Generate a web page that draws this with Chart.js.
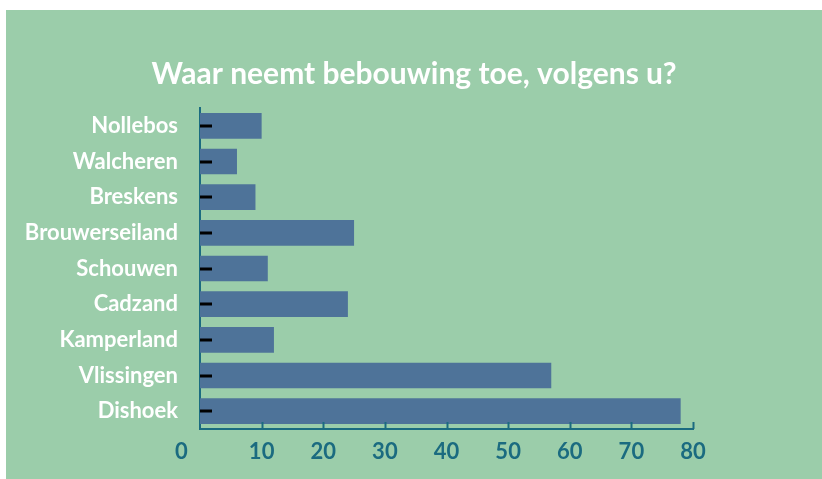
<!DOCTYPE html>
<html>
<head>
<meta charset="utf-8">
<script src="https://cdn.jsdelivr.net/npm/chart.js@4"></script>
<style>
  html, body { margin: 0; padding: 0; background: #ffffff; }
  #wrap { position: absolute; left: 6px; top: 10px; width: 816px; height: 469px; background: #9bcdaa; }
</style>
</head>
<body>
<div id="wrap"><canvas id="myChart" width="816" height="469"></canvas></div>
<script>
const places = ['Nollebos', 'Walcheren', 'Breskens', 'Brouwerseiland', 'Schouwen', 'Cadzand', 'Kamperland', 'Vlissingen', 'Dishoek'];
const counts = [10, 6, 9, 25, 11, 24, 12, 57, 78];
const xTicks = [0, 10, 20, 30, 40, 50, 60, 70, 80];
const titleText = 'Waar neemt bebouwing toe, volgens u?';

const teal = '#1b6b80';

// title centred on the whole panel, small black dashes at the start of each bar, inward x ticks
const extras = {
    id: 'extras',
    afterDraw(chart) {
        const ctx = chart.ctx;
        ctx.save();
        ctx.fillStyle = '#ffffff';
        ctx.font = 'bold 30px Lato';
        ctx.textAlign = 'center';
        ctx.textBaseline = 'alphabetic';
        ctx.fillText(titleText, chart.width / 2, 74);
        ctx.restore();
    },
    afterDatasetsDraw(chart) {
        const ctx = chart.ctx;
        const x = chart.scales.x;
        const area = chart.chartArea;
        ctx.save();
        ctx.strokeStyle = teal;
        ctx.lineWidth = 2;
        xTicks.forEach(v => {
            if (v === 0) return;
            const px = Math.round(x.getPixelForValue(v)) + 0.5;
            ctx.beginPath();
            ctx.moveTo(px, area.bottom);
            ctx.lineTo(px, area.bottom - 7);
            ctx.stroke();
        });
        ctx.strokeStyle = '#000000';
        ctx.lineWidth = 3;
        chart.getDatasetMeta(0).data.forEach(bar => {
            const y = Math.round(bar.y);
            ctx.beginPath();
            ctx.moveTo(x.getPixelForValue(0), y);
            ctx.lineTo(x.getPixelForValue(0) + 12, y);
            ctx.stroke();
        });
        ctx.restore();
    }
};

const chart = new Chart(document.getElementById('myChart').getContext('2d'), {
    type: 'bar',
    data: {
        labels: places,
        datasets: [{
            data: counts,
            backgroundColor: '#4e7399',
            borderWidth: 0,
            categoryPercentage: 0.72,
            barPercentage: 1
        }]
    },
    options: {
        indexAxis: 'y',
        responsive: false,
        animation: false,
        layout: { padding: { left: 0, right: 129, top: 98, bottom: 0 } },
        plugins: {
            legend: { display: false },
            tooltip: { enabled: false },
            title: { display: false }
        },
        scales: {
            x: {
                min: 0,
                max: 80,
                afterBuildTicks(scale) { scale.ticks = xTicks.map(v => ({ value: v })); },
                afterFit(scale) { scale.height = 50; },
                grid: { display: false, drawTicks: false },
                border: { display: true, color: teal, width: 2 },
                ticks: {
                    color: teal,
                    padding: 10,
                    // the zero label sits left of the axis in the original
                    callback: v => (v === 0 ? '0       ' : String(v)),
                    font: { family: 'Lato', size: 22, weight: 'bold' }
                }
            },
            y: {
                afterFit(scale) { scale.width = 194; },
                grid: { display: false, drawTicks: false },
                border: { display: true, color: teal, width: 2 },
                ticks: {
                    color: '#ffffff',
                    padding: 22,
                    font: { family: 'Lato', size: 22, weight: 'bold' }
                }
            }
        }
    },
    plugins: [extras]
});
</script>
</body>
</html>
